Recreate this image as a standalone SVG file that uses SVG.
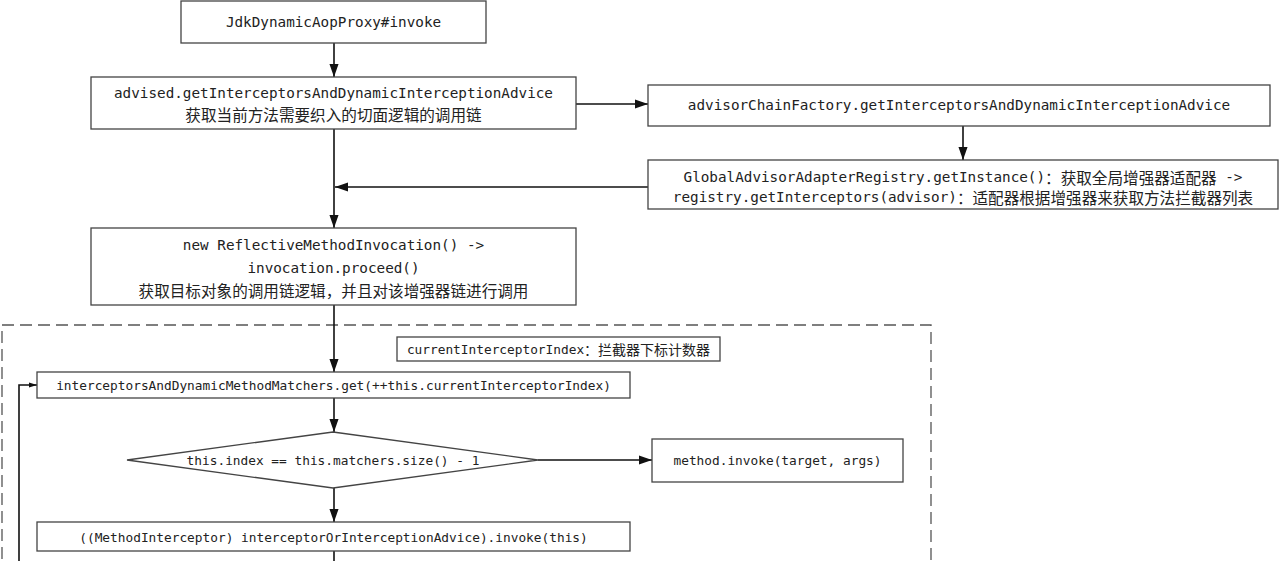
<svg xmlns="http://www.w3.org/2000/svg" width="1280" height="561" viewBox="0 0 1280 561">
<defs>
<style>
.box{fill:#fff;stroke:#444;stroke-width:1.3}
.ln{fill:none;stroke:#111;stroke-width:1.6}
.t{font-family:"DejaVu Sans Mono","Liberation Mono","Noto Sans CJK SC",monospace;font-size:14.3px;fill:#222;text-anchor:middle;dominant-baseline:central}
.s{font-size:12.8px}
.c{font-family:"Noto Sans CJK SC",sans-serif;font-size:15.6px}
.cs{font-family:"Noto Sans CJK SC",sans-serif;font-size:14px}
</style>
<marker id="ah" viewBox="0 0 10 10" refX="10" refY="5" markerWidth="9" markerHeight="9" markerUnits="userSpaceOnUse" orient="auto">
<path d="M0,0 L10,5 L0,10 Z" fill="#111"/>
</marker>
<marker id="ab" viewBox="0 0 10 10" refX="10" refY="5" markerWidth="13" markerHeight="13" markerUnits="userSpaceOnUse" orient="auto">
<path d="M0,1.5 L10,5 L0,8.5 Z" fill="#111"/>
</marker>
<marker id="as" viewBox="0 0 10 10" refX="10" refY="5" markerWidth="8" markerHeight="8" markerUnits="userSpaceOnUse" orient="auto">
<path d="M0,2 L10,5 L0,8 Z" fill="#111"/>
</marker>
</defs>
<rect width="1280" height="561" fill="#fff"/>
<rect id="loop-frame" x="2" y="325" width="929" height="250" fill="none" stroke="#555" stroke-width="1.3" stroke-dasharray="12 6"/>
<g id="connectors">
<path class="ln" d="M334,43 V77" marker-end="url(#ab)"/>
<path class="ln" d="M576,104 H648" marker-end="url(#ab)"/>
<path class="ln" d="M963,126 V160" marker-end="url(#ab)"/>
<path class="ln" d="M648,187 H335" marker-end="url(#ab)"/>
<path class="ln" d="M334,129 V228" marker-end="url(#ab)"/>
<path class="ln" d="M334,305 V372" marker-end="url(#ab)"/>
<path class="ln" d="M334,398 V432" marker-end="url(#ab)"/>
<path class="ln" d="M538,460 H652" marker-end="url(#ab)"/>
<path class="ln" d="M334,488 V522" marker-end="url(#ab)"/>
<path class="ln" d="M334,551 V561"/>
<path class="ln" d="M19,561 V385 H37" marker-end="url(#as)"/>
</g>
<g id="n1">
<rect class="box" x="181" y="1" width="305" height="42"/>
<text class="t" x="333.5" y="22">JdkDynamicAopProxy#invoke</text>
</g>
<g id="n2">
<rect class="box" x="91" y="77" width="485" height="52"/>
<text class="t" x="333.5" y="93">advised.getInterceptorsAndDynamicInterceptionAdvice</text>
<text class="t c" x="333.5" y="114">获取当前方法需要织入的切面逻辑的调用链</text>
</g>
<g id="n3">
<rect class="box" x="648" y="85" width="622" height="41"/>
<text class="t" x="959" y="105">advisorChainFactory.getInterceptorsAndDynamicInterceptionAdvice</text>
</g>
<g id="n4">
<rect class="box" x="648" y="160" width="630" height="49"/>
<text class="t" x="963" y="177">GlobalAdvisorAdapterRegistry.getInstance()<tspan class="c">：获取全局增强器适配器</tspan> -&gt;</text>
<text class="t" x="963" y="197">registry.getInterceptors(advisor)<tspan class="c">：适配器根据增强器来获取方法拦截器列表</tspan></text>
</g>
<g id="n5">
<rect class="box" x="91" y="228" width="485" height="77"/>
<text class="t" x="333.5" y="245">new ReflectiveMethodInvocation() -&gt;</text>
<text class="t" x="333.5" y="268">invocation.proceed()</text>
<text class="t c" x="333.5" y="290">获取目标对象的调用链逻辑，并且对该增强器链进行调用</text>
</g>
<g id="note">
<rect class="box" x="397" y="337" width="323" height="24"/>
<text class="t s" x="558.5" y="349">currentInterceptorIndex<tspan class="cs">：拦截器下标计数器</tspan></text>
</g>
<g id="n6">
<rect class="box" x="37" y="372" width="593" height="26"/>
<text class="t s" x="333.5" y="385">interceptorsAndDynamicMethodMatchers.get(++this.currentInterceptorIndex)</text>
</g>
<g id="d1">
<path class="box" d="M333,432 L538,460 L333,488 L127,460 Z"/>
<text class="t s" x="333" y="460">this.index == this.matchers.size() - 1</text>
</g>
<g id="n7">
<rect class="box" x="652" y="439" width="251" height="43"/>
<text class="t s" x="777.5" y="460.5">method.invoke(target, args)</text>
</g>
<g id="n8">
<rect class="box" x="37" y="522" width="593" height="29"/>
<text class="t s" x="333.5" y="537">((MethodInterceptor) interceptorOrInterceptionAdvice).invoke(this)</text>
</g>
</svg>
